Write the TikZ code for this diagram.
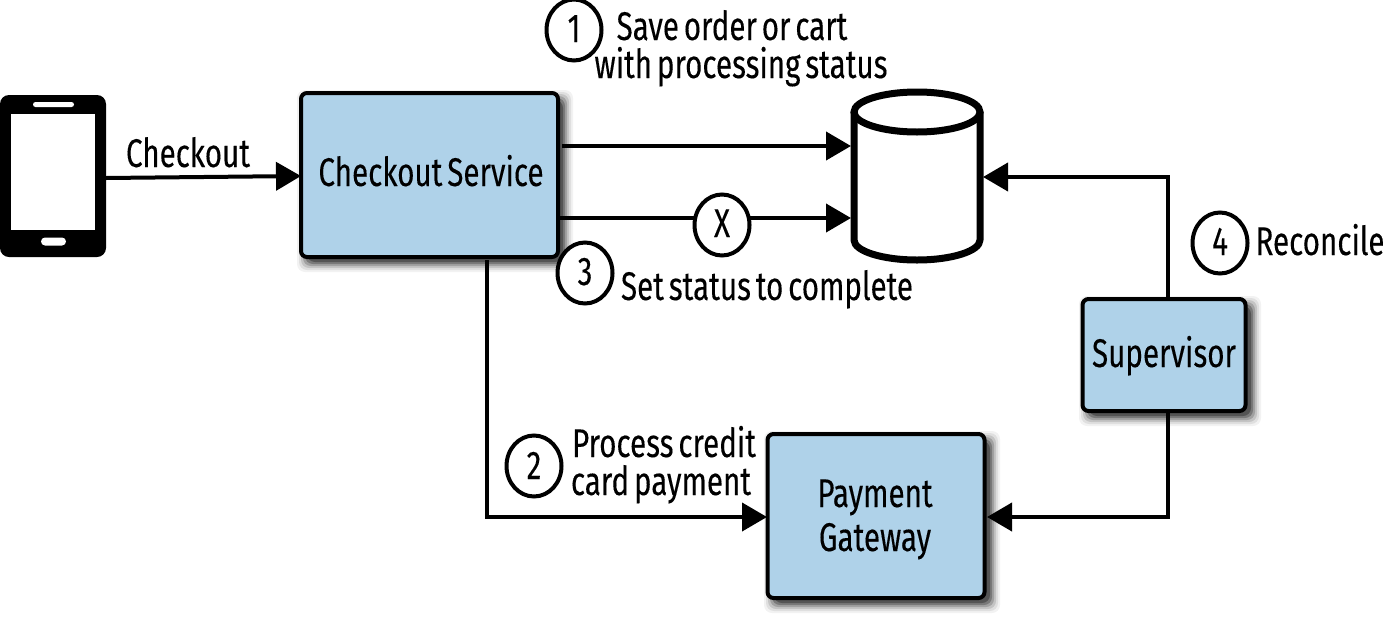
\documentclass[tikz,border=0pt]{standalone}
\usepackage{fontspec}
\setmainfont[FakeStretch=0.74,WordSpace=0.62,FakeBold=0.18]{Fira Sans}
\usetikzlibrary{arrows.meta,calc,shapes.geometric}
\definecolor{boxblue}{HTML}{AFD2E9}
\newcommand{\softshadow}[4]{%
  \foreach \dd/\oo in {9/.05,7/.08,5/.12,3/.18,1/.25,-1/.30}{
    \fill[black,fill opacity=\oo,rounded corners=8pt]
      ({#1-#3/2+6-\dd},{#2-#4/2+6-\dd}) rectangle ({#1+#3/2+6+\dd},{#2+#4/2+6+\dd});
  }}
\tikzset{
  bluebox/.style={draw=black,fill=boxblue,line width=4pt,rounded corners=6pt,inner sep=0pt},
  label/.style={inner sep=0pt,anchor=base,font=\fontsize{40}{40}\selectfont},
  badge/.style={ellipse,draw=black,fill=white,line width=4pt,inner sep=0pt,minimum width=55pt,minimum height=61pt},
  digit/.style={inner sep=0pt,anchor=base,font=\fontsize{40}{40}\selectfont},
  conn/.style={draw=black,line width=4pt,-{Triangle[length=25pt,width=28pt]}},
  plain/.style={draw=none,inner sep=0pt},
}
\begin{document}
\begin{tikzpicture}[x=1pt,y=-1pt]
\useasboundingbox (0,0) rectangle (1383,624);
% phone
\node[plain,minimum width=106pt,minimum height=162pt,fill=black,rounded corners=9pt] (phone) at (53,176) {};
\node[plain,minimum width=84pt,minimum height=116pt,fill=white] (screen) at (53,172) {};
\node[plain,minimum width=41pt,minimum height=5pt,fill=white,rounded corners=2.5pt] (speaker) at (53.5,104.5) {};
\node[plain,minimum width=25pt,minimum height=8pt,fill=white,rounded corners=4pt] (home) at (53.5,241.5) {};
% boxes
\softshadow{429}{175}{258}{164}
\softshadow{876}{516}{218}{164}
\softshadow{1164}{355}{164}{112}
\node[bluebox,minimum width=257pt,minimum height=164pt] (svc) at (429.5,175) {};
\node[bluebox,minimum width=217pt,minimum height=164pt] (pay) at (876,516) {};
\node[bluebox,minimum width=163pt,minimum height=112pt] (sup) at (1164,355) {};
\node[label] (svctxt) at (431,186) {Checkout Service};
\node[label] (paytxt1) at (875,507) {Payment};
\node[label] (paytxt2) at (875,551) {Gateway};
\node[label] (suptxt) at (1164,367) {Supervisor};
% database
\node[plain,minimum width=133pt,minimum height=174pt] (db) at (917,176) {};
\draw[line width=7pt,fill=white,line join=round] (854,112) -- (854,240) arc[start angle=180,end angle=360,x radius=63,y radius=-20] -- (980,112);
\draw[line width=7pt,fill=white] (917,112) ellipse[x radius=63,y radius=20];
% coordinates
\coordinate (a0) at (106,178);
\coordinate (s1) at (562,146);
\coordinate (s2) at (558,218);
\coordinate (s3) at (487,260);
\coordinate (t0) at (301,176);
\coordinate (t2) at (767,517);
\coordinate (t1) at (851,146);
\coordinate (t3) at (851,218);
\coordinate (t4) at (983,177);
\coordinate (t5) at (987,517);
\coordinate (k1) at (1168,177);
\coordinate (k2) at (1168,517);
\coordinate (b1) at (1168,300);
\coordinate (b2) at (1168,413);
% connectors
\draw[conn] (a0) -- (t0);
\draw[conn] (s1) -- (t1);
\draw[conn] (s2) -- (t3);
\draw[conn] (s3) |- (t2);
\draw[conn] (b1) -- (k1) -- (t4);
\draw[conn] (b2) -- (k2) -- (t5);
% badges
\node[badge] (x) at (722,225) {};
\node[badge] (n1) at (574,30) {};
\node[badge] (n2) at (534,466) {};
\node[badge] (n3) at (585,273) {};
\node[badge] (n4) at (1220,243) {};
\node[digit] (dx) at (722,237) {X};
\node[digit] (d1) at (574,42) {1};
\node[digit] (d2) at (534,479) {2};
\node[digit] (d3) at (585,285) {3};
\node[digit] (d4) at (1220,255) {4};
% labels
\node[label] (lchk) at (188,167) {Checkout};
\node[label] (l1a) at (732,40) {Save order or cart};
\node[label] (l1b) at (741,78) {with processing status};
\node[label] (l3) at (767,300) {Set status to complete};
\node[label] (l4) at (1320,255) {Reconcile};
\node[label] (l2a) at (664,457) {Process credit};
\node[label] (l2b) at (661,495) {card payment};
\end{tikzpicture}
\end{document}
